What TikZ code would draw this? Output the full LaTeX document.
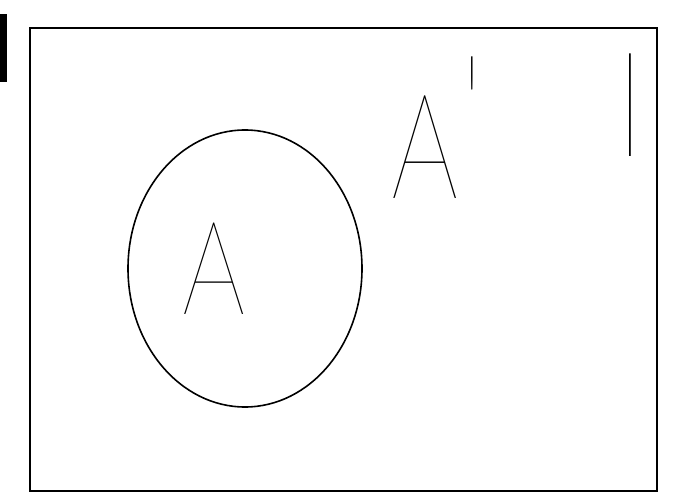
\documentclass[tikz,border=0pt]{standalone}
\usepackage{fontspec}
\usepackage{graphicx}
\newfontfamily\handfont{Lato Thin}

\tikzset{every picture/.style={line width=0.75pt}}

\begin{document}
\begin{tikzpicture}[x=0.75pt,y=0.75pt,yscale=-1,xscale=1]
\useasboundingbox (0,0) rectangle (675,499); %set diagram to 675 x 499

%Shape: Rectangle [id:bar]
\fill [color={rgb, 255:red, 0; green, 0; blue, 0 }  ] (0,14) rectangle (7,82) ;
%Shape: Rectangle [id:universe]
\draw  [line width=1.5]  (30,28) rectangle (657,491) ;
%Shape: Ellipse [id:setA]
\draw  [line width=1.2]  (245,268.5) ellipse (117 and 138.5) ;

% Text Node
\draw (214.5,314.5) node [anchor=base][inner sep=0.75pt] (labelA) {\handfont\fontsize{98}{98}\selectfont\scalebox{0.76}[1]{A}};
% Text Node
\draw (391,199) node [anchor=base west][inner sep=0pt] (labelAc) {\handfont\fontsize{110}{110}\selectfont\scalebox{0.72}[1]{A}\raisebox{0.27em}{'}};
% Text Node
\draw (630,157) node [anchor=base][inner sep=0.75pt] (labelI) {\handfont\fontsize{110}{110}\selectfont I};

\end{tikzpicture}
\end{document}
